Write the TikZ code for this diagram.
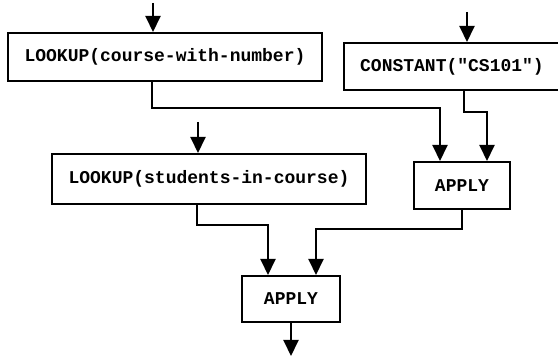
\documentclass[tikz,border=0pt]{standalone}
\usepackage{fontspec}
\setmonofont{Liberation Mono}
\usetikzlibrary{arrows.meta}
\tikzset{
  box/.style={draw, line width=2pt, inner sep=0pt, font=\ttfamily\bfseries\fontsize{18}{21}\selectfont},
  arr/.style={line width=2pt, -{Triangle[length=16pt,width=15pt]}},
  wire/.style={line width=2pt}
}
\begin{document}
\begin{tikzpicture}[x=1pt,y=-1pt]
\useasboundingbox (0,0) rectangle (558,358);
% boxes
\node[box, minimum width=314pt, minimum height=48pt] (b1) at (165,57) {LOOKUP(course-with-number)};
\node[box, minimum width=216pt, minimum height=47pt] (b2) at (452,66.5) {CONSTANT("CS101")};
\node[box, minimum width=314pt, minimum height=50pt] (b3) at (209,179) {LOOKUP(students-in-course)};
\node[box, minimum width=96pt, minimum height=47pt] (ap1) at (462,185.5) {APPLY};
\node[box, minimum width=98pt, minimum height=46pt] (ap2) at (291,299) {APPLY};
% free ends
\coordinate (in1) at (153,3);
\coordinate (in2) at (467,12);
\coordinate (in3) at (198,122);
\coordinate (out) at (291,356);
% corners
\coordinate (k1a) at (152,108); \coordinate (k1b) at (440,108);
\coordinate (k2a) at (464,112); \coordinate (k2b) at (487,112);
\coordinate (k3a) at (197,225); \coordinate (k3b) at (268,225);
\coordinate (k4a) at (462,229); \coordinate (k4b) at (316,229);
% inputs
\draw[arr] (in1) -- (in1 |- b1.north);
\draw[arr] (in2) -- (in2 |- b2.north);
\draw[arr] (in3) -- (in3 |- b3.north);
% connectors
\draw[arr] (b1.south -| k1a) -- (k1a) -- (k1b) -- (k1b |- ap1.north);
\draw[arr] (b2.south -| k2a) -- (k2a) -- (k2b) -- (k2b |- ap1.north);
\draw[arr] (b3.south -| k3a) -- (k3a) -- (k3b) -- (k3b |- ap2.north);
\draw[arr] (ap1.south -| k4a) -- (k4a) -- (k4b) -- (k4b |- ap2.north);
\draw[arr] (ap2.south) -- (out);
\end{tikzpicture}
\end{document}
